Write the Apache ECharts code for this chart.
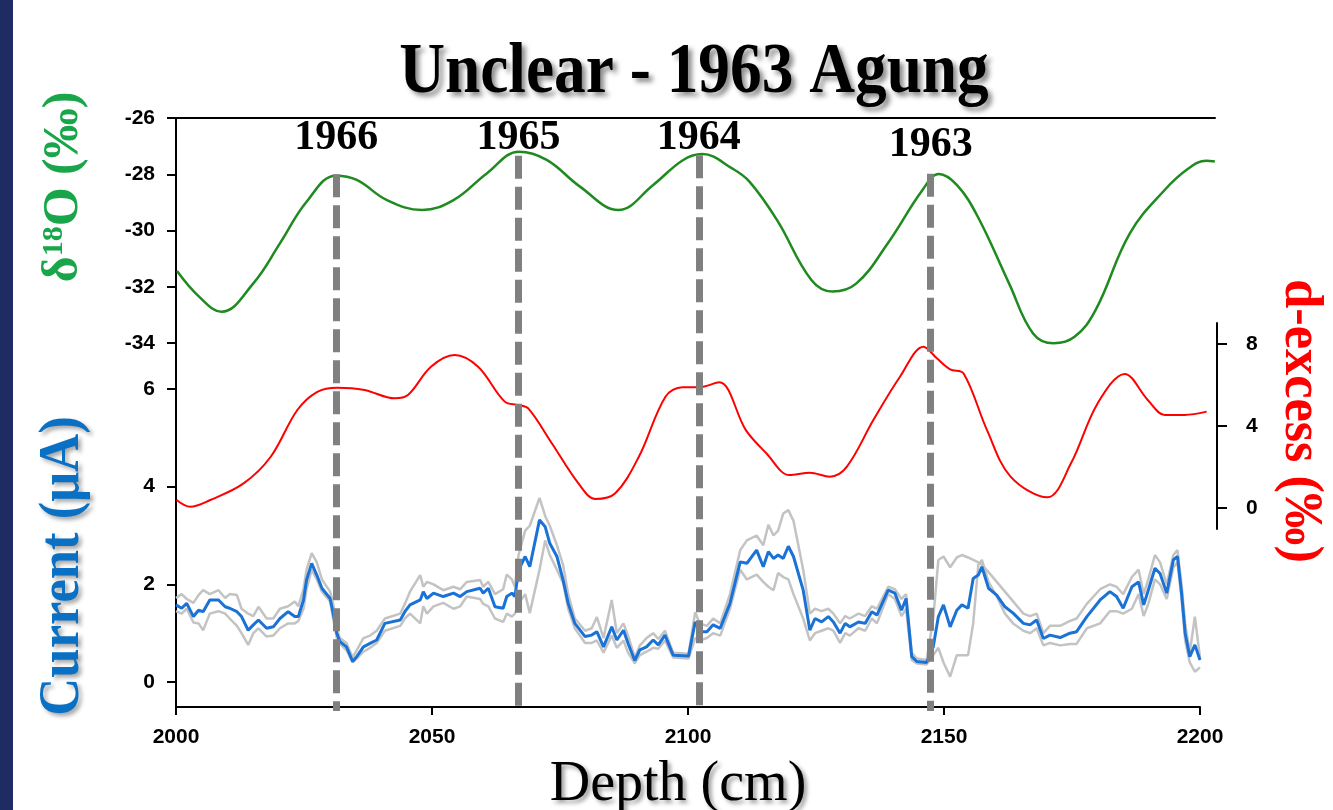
<!DOCTYPE html>
<html><head><meta charset="utf-8">
<script src="https://cdn.jsdelivr.net/npm/echarts@6/dist/echarts.min.js"></script>
<style>html,body{margin:0;padding:0;background:#fff}#c{width:1333px;height:810px}</style>
</head><body><div id="c"></div>
<script>
// ---- data ----
const depthTicks = [2000, 2050, 2100, 2150, 2200];

const o18Depth = [2000.2,2004.5,2008.9,2015.1,2020.3,2025.5,2031.2,2035.3,2041.2,2048.1,2054.2,2060.7,2067.0,2072.4,2078.9,2086.4,2093.2,2099.0,2102.8,2108.6,2112.0,2117.4,2124.1,2128.2,2132.9,2139.0,2145.8,2149.0,2152.5,2156.6,2162.7,2167.4,2171.4,2175.5,2179.6,2186.3,2193.1,2197.8,2201.2,2202.9];
const o18Value = [-31.44,-32.35,-32.89,-31.88,-30.46,-28.98,-28.05,-28.2,-28.92,-29.27,-28.92,-27.97,-27.2,-27.49,-28.44,-29.27,-28.38,-27.5,-27.28,-27.79,-28.26,-29.63,-31.76,-32.17,-31.88,-30.46,-28.56,-27.99,-28.38,-29.51,-31.88,-33.66,-34.01,-33.78,-32.83,-30.1,-28.56,-27.79,-27.52,-27.55];

const dexDepth = [2000.1,2002.8,2006.7,2013.2,2018.5,2023.7,2027.6,2031.5,2036.8,2042.7,2045.3,2049.8,2054.4,2059.0,2064.2,2066.9,2068.8,2073.4,2078.6,2081.9,2085.8,2090.4,2095.6,2098.9,2102.2,2106.1,2111.3,2115.3,2119.8,2123.8,2127.7,2131.0,2136.2,2141.4,2146.0,2148.6,2151.2,2153.8,2158.4,2163.0,2170.2,2174.8,2180.0,2185.3,2189.8,2193.1,2197.0,2201.3];
const dexValue = [0.39,0.06,0.39,1.2,2.5,4.78,5.67,5.87,5.76,5.35,5.51,6.89,7.46,6.89,5.19,5.02,4.86,3.16,1.2,0.44,0.72,2.5,5.43,5.89,5.89,6.13,3.8,2.67,1.61,1.72,1.53,2.01,4.29,6.4,7.87,7.3,6.76,6.57,3.8,1.53,0.52,2.18,5.1,6.54,5.27,4.54,4.54,4.7];

const curDepth = [2000.0,2001.1,2002.1,2003.4,2004.4,2005.3,2006.6,2008.3,2009.6,2010.5,
2011.9,2012.8,2014.1,2015.1,2016.1,2017.7,2019.0,2020.3,2021.9,2023.2,
2023.9,2024.9,2025.5,2026.5,2027.5,2028.5,2030.1,2030.7,2031.4,2032.0,
2033.3,2034.5,2035.3,2036.6,2037.9,2039.2,2040.8,2043.8,2044.7,2045.7,
2047.7,2048.3,2049.0,2050.3,2052.2,2054.2,2055.5,2056.8,2059.4,2060.0,
2061.0,2062.3,2063.9,2064.6,2065.6,2066.2,2066.9,2068.2,2069.1,2071.0,
2072.1,2073.0,2074.4,2075.6,2076.6,2077.9,2079.9,2081.2,2082.2,2083.5,
2085.1,2086.1,2087.4,2088.3,2089.6,2090.6,2091.9,2093.2,2094.2,2095.5,
2097.1,2100.1,2101.4,2102.3,2103.7,2104.9,2106.3,2108.2,2110.2,2111.5,
2113.4,2114.7,2115.7,2116.7,2117.6,2118.6,2119.6,2120.6,2122.5,2123.8,
2124.8,2126.1,2127.4,2128.4,2129.7,2130.7,2131.6,2133.3,2134.6,2135.9,
2136.9,2139.1,2140.4,2141.7,2142.6,2143.7,2144.7,2146.6,2147.9,2148.9,
2149.9,2151.2,2152.5,2153.5,2154.7,2155.7,2156.7,2157.4,2158.7,2160.3,
2161.9,2163.5,2165.5,2166.8,2168.1,2169.4,2170.7,2172.7,2174.6,2175.9,
2177.9,2180.5,2182.4,2183.7,2185.0,2186.7,2188.0,2189.0,2189.9,2191.2,
2192.2,2193.5,2194.8,2195.6,2196.4,2197.1,2198.0,2199.0,2200.0];
const curMean = [1.58,1.51,1.61,1.34,1.47,1.44,1.68,1.68,1.54,1.51,
1.44,1.34,1.06,1.17,1.27,1.10,1.13,1.30,1.44,1.34,
1.34,1.68,2.09,2.43,2.19,1.92,1.71,1.41,1.00,0.83,
0.72,0.42,0.52,0.72,0.79,0.86,1.20,1.27,1.44,1.58,
1.68,1.85,1.71,1.82,1.75,1.82,1.75,1.85,1.92,1.82,
1.92,1.54,1.51,1.75,1.82,1.75,2.29,2.57,2.36,3.32,
3.18,2.84,2.57,2.09,1.61,1.20,0.93,0.96,1.03,0.72,
1.13,0.86,1.06,0.79,0.44,0.66,0.72,0.86,0.76,0.96,
0.55,0.53,1.23,1.03,1.03,1.17,1.10,1.61,2.46,2.43,
2.70,2.36,2.67,2.53,2.60,2.53,2.78,2.57,1.88,1.06,
1.30,1.23,1.34,1.23,1.00,1.20,1.13,1.23,1.20,1.44,
1.37,1.88,1.82,1.47,1.71,0.52,0.42,0.40,0.72,1.34,
1.58,1.13,1.47,1.58,1.51,2.12,2.19,2.36,1.92,1.78,
1.54,1.41,1.20,1.17,1.27,0.89,0.96,0.91,1.00,1.03,
1.34,1.68,1.85,1.75,1.51,1.95,2.05,1.58,1.88,2.33,
2.22,1.82,2.50,2.57,1.82,1.00,0.52,0.76,0.45];
const curRunA = [1.72,1.80,1.70,1.62,1.78,1.88,1.80,1.88,1.72,1.80,
1.78,1.50,1.40,1.35,1.54,1.30,1.30,1.50,1.55,1.65,
1.55,1.90,2.30,2.64,2.45,2.10,1.85,1.60,1.10,0.90,
0.80,0.50,0.65,0.90,0.95,1.05,1.30,1.40,1.60,1.85,
2.19,1.95,2.05,2.00,1.88,1.95,1.90,2.05,2.09,1.95,
2.05,1.80,1.90,2.20,2.10,1.95,2.60,3.10,3.20,3.77,
3.40,3.20,2.80,2.40,1.80,1.30,1.05,1.10,1.33,0.90,
1.68,1.00,1.20,0.95,0.50,0.75,0.90,1.00,0.88,1.05,
0.60,0.58,1.43,1.20,1.15,1.30,1.20,1.80,2.70,2.90,
3.00,2.80,3.22,3.00,3.10,3.45,3.52,3.30,2.30,1.40,
1.50,1.45,1.50,1.40,1.20,1.35,1.30,1.40,1.35,1.55,
1.50,1.95,1.90,1.70,1.80,0.60,0.48,0.45,1.30,2.50,
2.57,2.35,2.55,2.60,2.55,2.50,2.45,2.40,2.25,2.05,
1.85,1.65,1.40,1.35,1.40,1.00,1.15,1.15,1.25,1.30,
1.60,1.90,2.00,1.95,1.80,2.15,2.30,1.80,2.10,2.60,
2.45,2.00,2.60,2.70,2.00,1.20,0.60,1.34,0.50];
const curRunB = [1.45,1.40,1.50,1.22,1.20,1.06,1.40,1.45,1.40,1.30,
1.15,1.00,0.76,1.00,1.10,0.93,0.95,1.10,1.20,1.20,
1.25,1.50,1.90,2.30,2.10,1.85,1.65,1.30,0.90,0.78,
0.65,0.40,0.48,0.62,0.70,0.80,1.05,1.15,1.30,1.40,
1.20,1.55,1.40,1.55,1.62,1.50,1.55,1.75,1.70,1.60,
1.55,1.30,1.23,1.40,1.34,1.40,1.60,1.80,1.41,2.30,
2.90,2.60,2.30,2.03,1.50,1.10,0.80,0.80,0.85,0.60,
0.95,0.70,0.85,0.60,0.38,0.55,0.62,0.70,0.68,0.85,
0.50,0.48,0.90,0.85,0.90,1.00,0.95,1.50,2.30,2.10,
2.20,2.05,1.95,1.88,2.23,2.15,2.10,1.80,1.30,0.85,
1.00,1.05,1.10,1.05,0.80,1.00,0.95,1.10,1.05,1.30,
1.20,1.80,1.70,1.35,1.50,0.45,0.38,0.36,0.55,0.70,
0.40,0.11,0.55,0.55,0.55,1.20,2.40,2.50,2.05,1.75,
1.40,1.20,1.05,1.00,1.10,0.75,0.80,0.75,0.78,0.78,
1.10,1.20,1.45,1.45,1.40,1.50,1.80,1.35,1.60,2.10,
2.00,1.70,2.35,2.45,1.70,0.85,0.40,0.21,0.30];

const eventYears = ['1966', '1965', '1964', '1963'];
const eventDepth = [2031.3, 2066.9, 2102.1, 2147.4];
const eventO18Top = [-28.0, -27.34, -27.32, -27.98];

// ---- style / layout ----
const labelLift = [15, -3, -4, 8];
const SANS = '"Liberation Sans", Arial, sans-serif';
const SERIF = '"Liberation Serif", "Times New Roman", serif';
const L = 176, R = 1333 - 1200;          // plot frame (2000..2200)
const RW = 1333 - 1215;                   // upper panels run a little past 2200
const wideMax = 2000 + (1215 - L) * 200 / (1200 - L);   // same depth scale, wider extent
const tickLabel = {color: '#000', fontFamily: SANS, fontWeight: 'bold', fontSize: 21};
const blackLine = {color: '#000', width: 2};
const pairs = (xs, ys) => xs.map((x, i) => [x, ys[i]]);
const hiddenX = (gi, mx) => ({type: 'value', gridIndex: gi, min: 2000, max: mx, show: false});

const chart = echarts.init(document.getElementById('c'));
chart.setOption({
  animation: false,
  backgroundColor: '#fff',
  grid: [
    {left: L, right: R, top: 118, height: 589, outerBoundsMode: 'none'},    // frame
    {left: L, right: RW, top: 118, height: 225, outerBoundsMode: 'none'},   // d18O
    {left: L, right: RW, top: 344, height: 164, outerBoundsMode: 'none'},   // d-excess
    {left: L, right: RW, top: 323, height: 206, outerBoundsMode: 'none'},   // d-excess axis line
    {left: L, right: R, top: 389, height: 293, outerBoundsMode: 'none'}     // current
  ],
  xAxis: [
    {type: 'value', gridIndex: 0, position: 'bottom', min: 2000, max: 2200, interval: 50,
     axisLine: {show: true, onZero: false, lineStyle: blackLine},
     axisTick: {show: true, inside: false, length: 8, lineStyle: blackLine},
     axisLabel: Object.assign({margin: 20, formatter: v => String(v)}, tickLabel), splitLine: {show: false}},
    {type: 'value', gridIndex: 1, position: 'top', min: 2000, max: wideMax,
     axisLine: {show: true, onZero: false, lineStyle: blackLine},
     axisTick: {show: false}, axisLabel: {show: false}, splitLine: {show: false}},
    hiddenX(1, wideMax), hiddenX(2, wideMax), hiddenX(3, wideMax), hiddenX(4, 2200)
  ],
  yAxis: [
    {type: 'value', gridIndex: 0, min: 0, max: 1, position: 'left',
     axisLine: {show: true, onZero: false, lineStyle: blackLine},
     axisTick: {show: false}, axisLabel: {show: false}, splitLine: {show: false}},
    {type: 'value', gridIndex: 1, min: -34, max: -26, interval: 2, position: 'left',
     axisLine: {show: false}, axisTick: {show: true, inside: false, length: 9, lineStyle: blackLine},
     axisLabel: Object.assign({margin: 21}, tickLabel), splitLine: {show: false}},
    {type: 'value', gridIndex: 2, min: 0, max: 8, interval: 4, position: 'right', offset: 2,
     axisLine: {show: false}, axisTick: {show: true, inside: false, length: 10, lineStyle: blackLine},
     axisLabel: Object.assign({margin: 29}, tickLabel), splitLine: {show: false}},
    {type: 'value', gridIndex: 3, min: 0, max: 1, position: 'right', offset: 2,
     axisLine: {show: true, onZero: false, lineStyle: blackLine},
     axisTick: {show: false}, axisLabel: {show: false}, splitLine: {show: false}},
    {type: 'value', gridIndex: 4, min: 0, max: 6, interval: 2, position: 'left',
     axisLine: {show: false}, axisTick: {show: true, inside: false, length: 9, lineStyle: blackLine},
     axisLabel: Object.assign({margin: 21}, tickLabel), splitLine: {show: false}}
  ],
  series: [
    {type: 'line', name: 'runA', xAxisIndex: 5, yAxisIndex: 4, data: pairs(curDepth, curRunA),
     showSymbol: false, clip: false, lineStyle: {color: '#c3c3c3', width: 2.5}, z: 2},
    {type: 'line', name: 'runB', xAxisIndex: 5, yAxisIndex: 4, data: pairs(curDepth, curRunB),
     showSymbol: false, clip: false, lineStyle: {color: '#c3c3c3', width: 2.5}, z: 2},
    {type: 'line', name: 'current', xAxisIndex: 5, yAxisIndex: 4, data: pairs(curDepth, curMean),
     showSymbol: false, clip: false, lineStyle: {color: '#1a72d6', width: 3}, z: 3},
    {type: 'line', name: 'dexcess', xAxisIndex: 3, yAxisIndex: 2, data: pairs(dexDepth, dexValue),
     smooth: 0.35, showSymbol: false, clip: false, lineStyle: {color: '#ff0000', width: 2}, z: 3},
    {type: 'line', name: 'd18O', xAxisIndex: 2, yAxisIndex: 1, data: pairs(o18Depth, o18Value),
     smooth: 0.4, showSymbol: false, clip: false, lineStyle: {color: '#1f8a1f', width: 2.5}, z: 3,
     markLine: {
       silent: true, symbol: ['none', 'none'], animation: false,
       lineStyle: {color: '#808080', width: 7, type: [23, 8], opacity: 1},
       label: {show: true, position: 'start', formatter: '{b}', color: '#000',
               fontFamily: SERIF, fontWeight: 'bold', fontSize: 42},
       emphasis: {disabled: true},
       data: eventYears.map((yr, i) => [
         {name: yr, coord: [eventDepth[i], eventO18Top[i]], label: {distance: labelLift[i]}},
         {coord: [eventDepth[i], eventO18Top[i]], y: 711}
       ])
     }}
  ],
  graphic: [
    {type: 'rect', left: 0, top: 0, shape: {width: 13, height: 810}, style: {fill: '#1f2b63'}, z: 10},
    {type: 'text', x: 694, y: 73, scaleX: 0.88, z: 10,
     style: {text: 'Unclear - 1963 Agung', font: 'bold 72px ' + SERIF, fill: '#000',
             align: 'center', verticalAlign: 'middle',
             textShadowColor: 'rgba(0,0,0,0.45)', textShadowBlur: 5, textShadowOffsetX: 4, textShadowOffsetY: 4}},
    {type: 'text', x: 678, y: 785, z: 10,
     style: {text: 'Depth (cm)', font: '56px ' + SERIF, fill: '#000', align: 'center', verticalAlign: 'middle',
             textShadowColor: 'rgba(0,0,0,0.4)', textShadowBlur: 4, textShadowOffsetX: 3, textShadowOffsetY: 3}},
    {type: 'text', x: 64, y: 187, rotation: Math.PI / 2, z: 10,
     style: {text: '{a|δ}{s|18}{a|O (‰)}', align: 'center', verticalAlign: 'middle',
             rich: {a: {font: 'bold 50px ' + SERIF, fill: '#19a64a', color: '#19a64a'},
                    s: {font: 'bold 30px ' + SERIF, fill: '#19a64a', color: '#19a64a', verticalAlign: 'top'}}}},
    {type: 'text', x: 63.5, y: 566, rotation: Math.PI / 2, scaleX: 0.94, z: 10,
     style: {text: 'Current (μA)', font: 'bold 56px ' + SERIF, fill: '#0a70c4', align: 'center', verticalAlign: 'middle',
             textShadowColor: 'rgba(0,0,0,0.35)', textShadowBlur: 4, textShadowOffsetX: 3, textShadowOffsetY: 3}},
    {type: 'text', x: 1300, y: 421, rotation: -Math.PI / 2, scaleX: 0.97, z: 10,
     style: {text: 'd-excess (‰)', font: 'bold 54px ' + SERIF, fill: '#ff0000', align: 'center', verticalAlign: 'middle'}}
  ]
});
</script></body></html>
